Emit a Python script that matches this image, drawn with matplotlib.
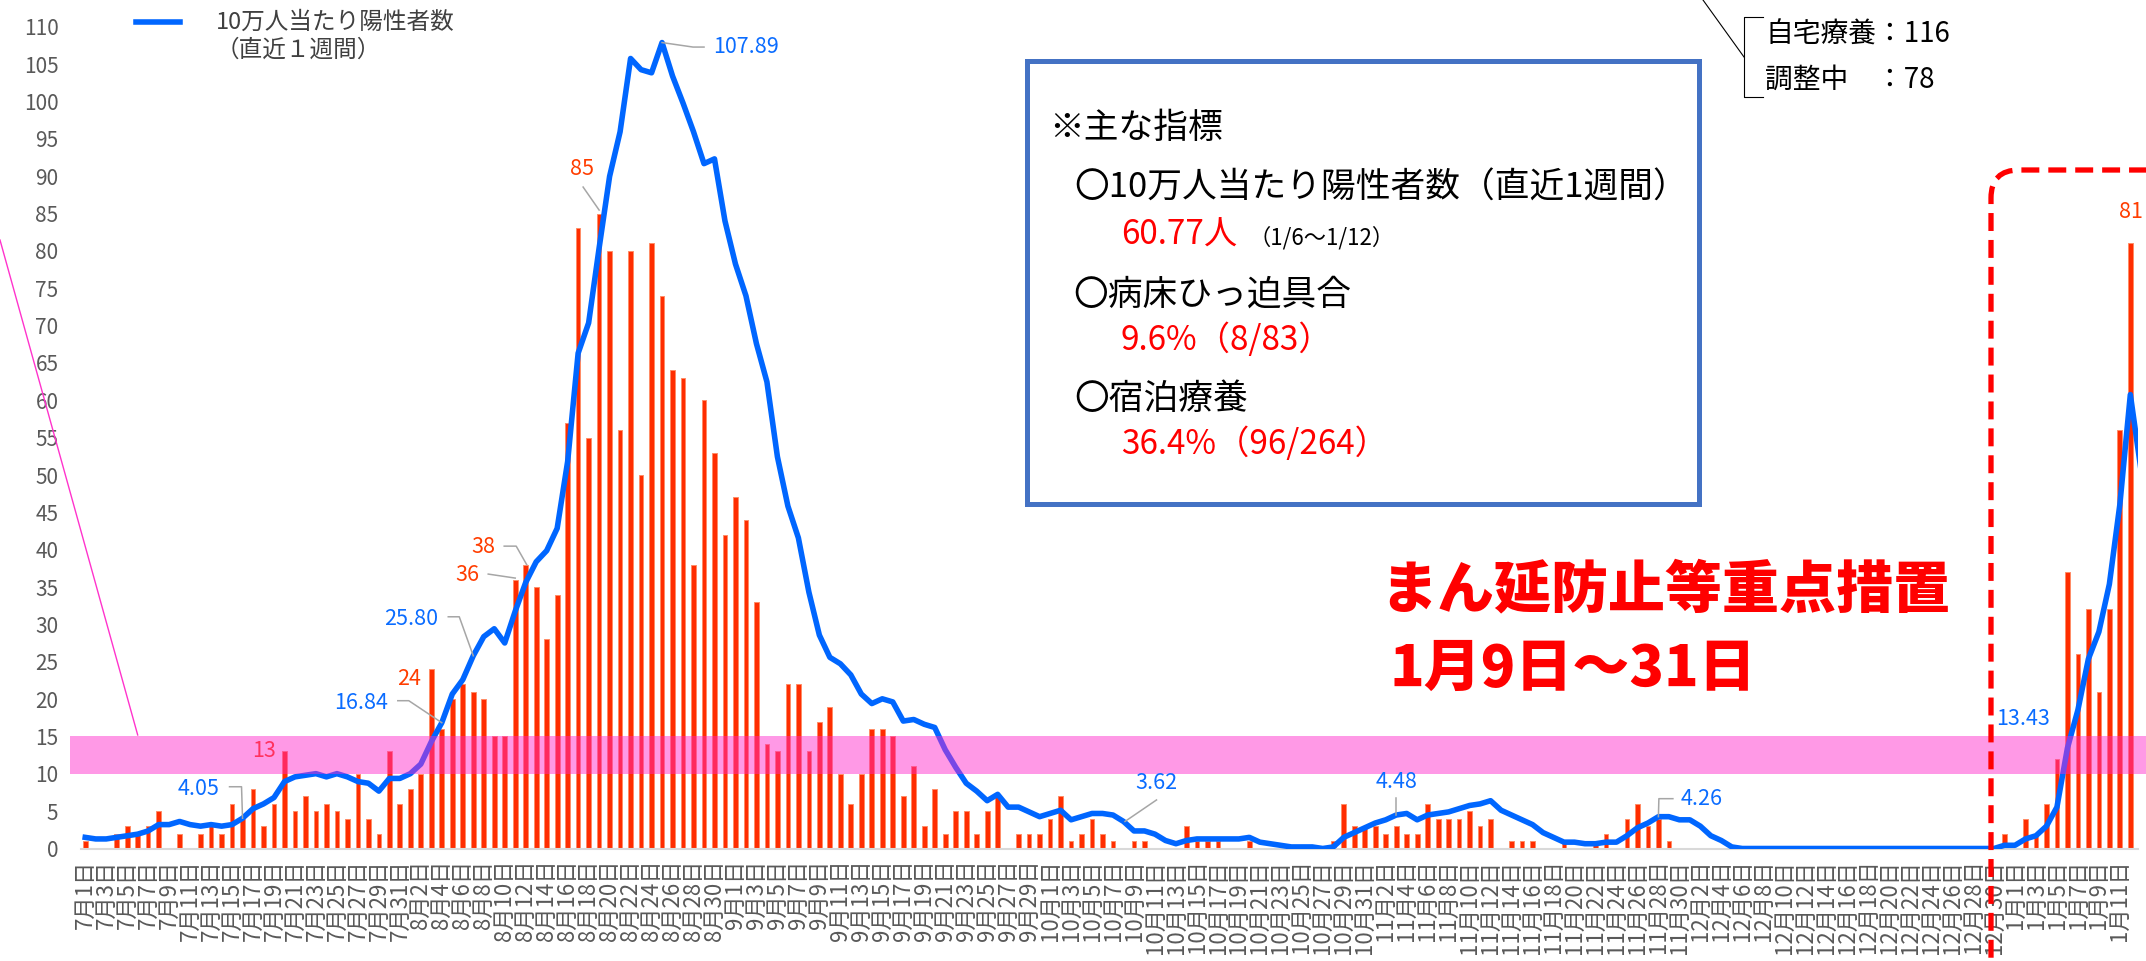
import matplotlib
matplotlib.use('Agg')
import matplotlib.pyplot as plt
from matplotlib.lines import Line2D
from matplotlib.patches import Rectangle, FancyBboxPatch
from matplotlib.transforms import IdentityTransform
import pandas as pd

plt.rcParams['font.family'] = ['Noto Sans CJK JP', 'DejaVu Sans']

W, H = 2146, 961

dates = pd.date_range('2021-07-01', '2022-01-12')
day_labels = [f'{d.month}月{d.day}日' for d in dates]

# daily new positives, 7/1 .. 1/12
positives = [
    # July
    1, 0, 0, 2, 3, 2, 3, 5, 0, 2, 0, 2, 3, 2, 6, 4, 8, 3, 6, 13, 5, 7, 5, 6, 5, 4, 10, 4, 2, 13, 6,
    # August
    8, 10, 24, 16, 20, 22, 21, 20, 15, 15, 36, 38, 35, 28, 34, 57, 83, 55, 85, 80, 56, 80, 50, 81, 74,
    64, 63, 38, 60, 53, 42,
    # September
    47, 44, 33, 14, 13, 22, 22, 13, 17, 19, 10, 6, 10, 16, 16, 15, 7, 11, 3, 8, 2, 5, 5, 2, 5, 7, 0, 2, 2, 2,
    # October
    4, 7, 1, 2, 4, 2, 1, 0, 1, 1, 0, 0, 0, 3, 1, 1, 1, 0, 0, 1, 0, 0, 0, 0, 0, 0, 0, 1, 6, 3, 3,
    # November
    3, 2, 3, 2, 2, 6, 4, 4, 4, 5, 3, 4, 0, 1, 1, 1, 0, 0, 1, 0, 0, 1, 2, 0, 4, 6, 3, 4, 1, 0,
    # December
    0, 0, 0, 0, 0, 0, 0, 0, 0, 0, 0, 0, 0, 0, 0, 0, 0, 0, 0, 0, 0, 0, 0, 0, 0, 0, 0, 0, 0, 0, 2,
    # January
    0, 4, 2, 6, 12, 37, 26, 32, 21, 32, 56, 81,
]

# 10万人当たり陽性者数（直近1週間）; the last value is the stub drawn past 1/12
per_100k = [
    # July
    1.49, 1.28, 1.28, 1.49, 1.71, 1.92, 2.35, 3.20, 3.20, 3.62, 3.20, 2.99, 3.20, 2.99, 3.20, 4.05,
    5.33, 5.97, 6.82, 8.96, 9.59, 9.81, 10.02, 9.59, 10.02, 9.59, 8.96, 8.74, 7.68, 9.38, 9.38,
    # August
    10.02, 11.30, 14.29, 16.84, 20.68, 22.60, 25.80, 28.36, 29.42, 27.51, 31.77, 35.61, 38.38, 39.87,
    42.86, 51.81, 66.31, 70.36, 80.38, 89.98, 95.95, 105.76, 104.26, 103.84, 107.89, 103.41, 99.79,
    95.95, 91.68, 92.32, 84.01,
    # September
    78.25, 73.99, 67.59, 62.47, 52.45, 45.84, 41.58, 34.33, 28.57, 25.59, 24.73, 23.24, 20.68, 19.40,
    20.04, 19.62, 17.06, 17.27, 16.63, 16.20, 13.22, 10.87, 8.74, 7.68, 6.40, 7.25, 5.54, 5.54, 4.90, 4.26,
    # October
    4.69, 5.12, 3.84, 4.26, 4.69, 4.69, 4.48, 3.62, 2.35, 2.35, 1.92, 1.07, 0.64, 1.07, 1.28, 1.28,
    1.28, 1.28, 1.28, 1.49, 0.85, 0.64, 0.43, 0.21, 0.21, 0.21, 0.00, 0.21, 1.49, 2.13, 2.77,
    # November
    3.41, 3.84, 4.48, 4.69, 3.84, 4.48, 4.69, 4.90, 5.33, 5.76, 5.97, 6.40, 5.12, 4.48, 3.84, 3.20,
    2.13, 1.49, 0.85, 0.85, 0.64, 0.64, 0.85, 0.85, 1.71, 2.77, 3.41, 4.26, 4.26, 3.84,
    # December
    3.84, 2.99, 1.71, 1.07, 0.21, 0, 0, 0, 0, 0, 0, 0, 0, 0, 0, 0, 0, 0, 0, 0, 0, 0, 0, 0, 0, 0, 0, 0,
    0, 0, 0.43,
    # January
    0.43, 1.28, 1.71, 2.99, 5.54, 13.43, 18.55, 25.37, 29.00, 35.39, 46.05, 60.77,
    50.8,
]

# labelled points: (day index, text, offset x px, offset y px (down), ha)
line_labels = [(15, '4.05', -23, -29, 'right'), (34, '16.84', -54, -20, 'right'),
               (37, '25.80', -35, -37, 'right'), (55, '107.89', 51, 4, 'left'),
               (99, '3.62', 33, -38, 'center'), (125, '4.48', 0, -33, 'center'),
               (150, '4.26', 22, -18, 'left'), (189, '13.43', -71, -29, 'left')]
bar_labels = [(19, '13', -8, 0, 'right'), (33, '24', -10, 10, 'right'),
              (41, '36', -36, -5, 'right'), (42, '38', -30, -18, 'right'),
              (49, '85', -17, -45, 'center'), (195, '81', 1, -31, 'center')]

# leader lines, offsets in px from the labelled point
line_leaders = {15: [(-13, -31.5), (-1, -31.5), (0, 0)],
                34: [(-44, -22), (-33, -22), (0, 0)],
                37: [(-25, -39), (-14, -39), (0, 0)],
                55: [(0, 0), (31, 4.5), (42, 4.5)],
                99: [(33, -21.5), (1.5, 0)],
                125: [(0, -17), (0, 0)],
                150: [(0, 0), (0.5, -18), (14.5, -18)]}
bar_leaders = {41: [(-27, -5.5), (0, -1.5)],
               42: [(-21.5, -18.5), (-9.5, -18.5), (1, 0)],
               49: [(-16, -26.5), (0, -3.5)]}

blue = '#0066ff'
label_blue = '#0a6cff'
bar_red = '#ff2d00'
label_red = '#ff3d00'
gray_text = '#595959'
leader_gray = '#a6a6a6'

fig = plt.figure(figsize=(W / 100, H / 100), dpi=100)
ax = fig.add_axes([80.7 / W, 1 - 848.5 / H, (2138 - 80.7) / W, (848.5 - 26.8) / H])

x = range(len(positives))
ax.bar(x, positives, width=0.45, color=bar_red, edgecolor='#ff8c66', linewidth=0.7, zorder=2)
ax.plot(range(len(per_100k)), per_100k, color=blue, lw=4.0, zorder=3)

# 10-15 band
ax.add_patch(Rectangle((-1.43, 10), 200, 5, facecolor=(1, 38 / 255, 202 / 255), alpha=0.47,
                       lw=0, zorder=5, clip_on=False))

ax.set_xlim(-0.43, 195.73)
ax.set_ylim(0, 110)
ax.set_yticks(range(0, 111, 5))
ax.set_xticks(range(0, len(positives), 2))
ax.set_xticklabels(day_labels[::2], rotation=90)
ax.tick_params(axis='x', length=0, pad=8, labelsize=16, labelcolor=gray_text)
ax.tick_params(axis='y', length=0, pad=16, labelsize=15, labelcolor=gray_text)
for side in ['top', 'right', 'left']:
    ax.spines[side].set_visible(False)
ax.spines['bottom'].set_color('#d9d9d9')
ax.spines['bottom'].set_linewidth(1.5)


def leader(i, v, pts):
    x0, y0 = ax.transData.transform((i, v))
    xs = [x0 + dx for dx, dy in pts]
    ys = [y0 - dy for dx, dy in pts]
    fig.add_artist(Line2D(xs, ys, transform=IdentityTransform(), color=leader_gray, lw=1.1, zorder=6))


for i, s, dx, dy, ha in line_labels:
    ax.annotate(s, xy=(i, per_100k[i]), xytext=(dx, -dy), textcoords='offset pixels', ha=ha,
                va='center', color=label_blue, fontsize=15.5, annotation_clip=False, zorder=6)
    if i in line_leaders:
        leader(i, per_100k[i], line_leaders[i])

for i, s, dx, dy, ha in bar_labels:
    ax.annotate(s, xy=(i, positives[i]), xytext=(dx, -dy), textcoords='offset pixels', ha=ha,
                va='center', color=label_red, fontsize=15.5, annotation_clip=False, zorder=4)
    if i in bar_leaders:
        leader(i, positives[i], bar_leaders[i])


def fx(px):
    return px / W


def fy(py):
    return 1 - py / H


# legend
fig.add_artist(Line2D([fx(136), fx(180)], [fy(22), fy(22)], color=blue, lw=4.0))
fig.text(fx(216), fy(22), '10万人当たり陽性者数', fontsize=17, color='#404040', va='center')
fig.text(fx(216), fy(50), '（直近１週間）', fontsize=17, color='#404040', va='center')

# magenta pointer line to the band
fig.add_artist(Line2D([fx(0), fx(137.7)], [fy(240), fy(735)], color='#ff33cc', lw=1))

# main indicator box
fig.add_artist(Rectangle((fx(1027), fy(504)), fx(1699 - 1027), (504 - 61) / H, facecolor='white',
                         edgecolor='#4472c4', lw=3.6, zorder=7))
fig.text(fx(1049), fy(128), '※主な指標', fontsize=25, va='center', zorder=8)
fig.text(fx(1074), fy(188), '〇10万人当たり陽性者数（直近1週間）', fontsize=25, va='center', zorder=8)
fig.text(fx(1121), fy(235), '60.77人', fontsize=24, color='#ff0000', va='center', zorder=8)
fig.text(fx(1248), fy(238), '（1/6～1/12）', fontsize=16, va='center', zorder=8)
fig.text(fx(1073), fy(295), '〇病床ひっ迫具合', fontsize=25, va='center', zorder=8)
fig.text(fx(1121), fy(340), '9.6%（8/83）', fontsize=24, color='#ff0000', va='center', zorder=8)
fig.text(fx(1074), fy(400), '〇宿泊療養', fontsize=25, va='center', zorder=8)
fig.text(fx(1121), fy(445), '36.4%（96/264）', fontsize=24, color='#ff0000', va='center', zorder=8)

# priority measures period
fig.text(fx(1380), fy(591), 'まん延防止等重点措置', fontsize=41, weight='black', color='#ff0000',
         va='center')
fig.text(fx(1389), fy(669), '1月9日～31日', fontsize=41, weight='black', color='#ff0000', va='center')

# home care bracket
fig.add_artist(Line2D([fx(1703), fx(1744)], [fy(0), fy(57)], color='black', lw=0.8))
fig.add_artist(Line2D([fx(1763), fx(1744), fx(1744), fx(1763)], [fy(17), fy(17), fy(97), fy(97)],
                      color='black', lw=0.8))
fig.text(fx(1765), fy(35), '自宅療養：116', fontsize=20, va='center')
fig.text(fx(1765), fy(80), '調整中　：78', fontsize=20, va='center')

# red dashed rounded frame
fig.add_artist(FancyBboxPatch((19.91, -0.5), 2.0, 8.41, boxstyle='round,pad=0,rounding_size=0.28',
                              transform=fig.dpi_scale_trans, facecolor='none', edgecolor='#ff0000',
                              lw=3.8, linestyle=(0, (3.4, 1.7)), zorder=9))

fig.savefig('out.png', dpi=100)
